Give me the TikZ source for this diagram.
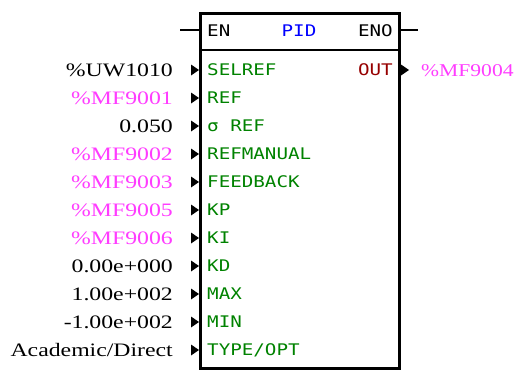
\documentclass[tikz,border=0pt]{standalone}
\usepackage{fontspec}
\setmainfont{Liberation Serif}
\newfontfamily\pinfont{DejaVu Sans Mono}
\definecolor{mag}{RGB}{255,60,255}
\definecolor{pingreen}{RGB}{0,130,0}
\definecolor{outred}{RGB}{150,0,0}
\definecolor{pidblue}{RGB}{0,0,255}
\newcommand\wideval[1]{\scalebox{1.25}[1]{#1}}
\newcommand\widepin[1]{\scalebox{1.2}[1]{#1}}
\tikzset{
  val/.style={anchor=base east, inner sep=0pt, font=\fontsize{19}{19}\selectfont},
  outval/.style={anchor=base west, inner sep=0pt, font=\fontsize{18}{18}\selectfont},
  pin/.style={anchor=base west, inner sep=0pt, text=pingreen, font=\pinfont\fontsize{16}{16}\selectfont},
  hdr/.style={inner sep=0pt, font=\pinfont\fontsize{16}{16}\selectfont},
  marker/.style={fill=black},
  lead/.style={line width=2pt}
}
\begin{document}
\begin{tikzpicture}[x=1pt,y=-1pt]
\useasboundingbox (0,0) rectangle (518,372);
\node[draw, line width=3pt, outer sep=0pt, minimum width=199pt, minimum height=355pt, anchor=north west, inner sep=0pt] (box) at (200,13) {};
\draw[line width=2pt] (200,50) -- (399,50);
% header
\node[hdr, anchor=base west] (en) at (207,36) {\widepin{EN}};
\node[hdr, anchor=base, text=pidblue] (pid) at (299,36) {\widepin{PID}};
\node[hdr, anchor=base east] (eno) at (393,36) {\widepin{ENO}};
\coordinate (enL) at (180,30);
\coordinate (enoR) at (418,30);
\draw[lead] (enL) -- (enL -| box.west);
\draw[lead] (box.east |- enoR) -- (enoR);
% output
\node[pin, anchor=base east, text=outred] (out) at (393,75.5) {\widepin{OUT}};
\node[outval, text=mag] (outv) at (421,76) {\scalebox{1.2}[1]{\%MF9004}};
\fill[marker] (401,64.5) -- (409,70) -- (401,75.5) -- cycle;
% inputs
\foreach \y/\p/\v/\c [count=\i] in {
  70/SELREF/\%UW1010/black,
  98/REF/\%MF9001/mag,
  126/{σ REF}/0.050/black,
  154/REFMANUAL/\%MF9002/mag,
  182/FEEDBACK/\%MF9003/mag,
  210/KP/\%MF9005/mag,
  238/KI/\%MF9006/mag,
  266/KD/0.00e+000/black,
  294/MAX/1.00e+002/black,
  322/MIN/-1.00e+002/black}{
  \node[pin] (p\i) at (207,\y+5.5) {\widepin{\p}};
  \node[val, text=\c] (v\i) at (173,\y+6) {\wideval{\v}};
  \fill[marker] (191,\y-5.5) -- (199,\y) -- (191,\y+5.5) -- cycle;
}
\node[pin] (p11) at (207,355.5) {\widepin{TYPE/OPT}};
\node[val] (v11) at (173,356) {\wideval{Academic/Direct}};
\fill[marker] (191,344.5) -- (199,350) -- (191,355.5) -- cycle;
\end{tikzpicture}
\end{document}
